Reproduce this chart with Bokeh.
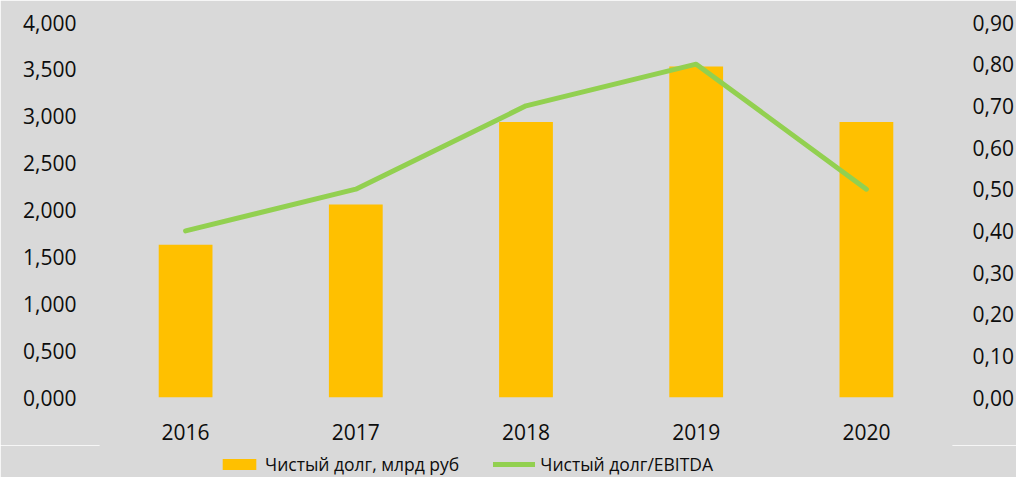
from bokeh.plotting import figure
from bokeh.layouts import column
from bokeh.models import (ColumnDataSource, Range1d, LinearAxis, FixedTicker,
                          CustomJSTickFormatter, Legend, LegendItem)
from bokeh.embed import file_html
from bokeh.resources import INLINE

years = ["2016", "2017", "2018", "2019", "2020"]
net_debt = [1.63, 2.06, 2.94, 3.53, 2.94]          # Чистый долг, млрд руб
debt_ebitda = [0.40, 0.50, 0.70, 0.80, 0.50]       # Чистый долг/EBITDA
left_ticks = [0, 0.5, 1.0, 1.5, 2.0, 2.5, 3.0, 3.5, 4.0]
right_ticks = [0, 0.1, 0.2, 0.3, 0.4, 0.5, 0.6, 0.7, 0.8, 0.9]
series_names = ["Чистый долг, млрд руб", "Чистый долг/EBITDA"]

BG = "#D9D9D9"
FONT = "Open Sans"
TXT = "#0D0D0D"
BAR_C = "#FFC000"
LINE_C = "#92D050"

src = ColumnDataSource(dict(year=years, debt=net_debt, ratio=debt_ebitda))

p = figure(width=1016, height=445, x_range=years, y_range=Range1d(0, 4),
           output_backend="svg", toolbar_location=None,
           background_fill_color=BG, border_fill_color=BG,
           min_border_left=100, min_border_right=58, min_border_top=22,
           min_border_bottom=48)
p.outline_line_color = BG
p.outline_line_width = 2
p.xgrid.visible = False
p.ygrid.visible = False
p.extra_y_ranges = {"ratio": Range1d(0, 0.9)}

p.vbar(x="year", top="debt", width=0.316, source=src,
       fill_color=BAR_C, line_color=None)
p.line(x="year", y="ratio", source=src, y_range_name="ratio",
       line_color=LINE_C, line_width=5, line_join="round", line_cap="round")

def style_axis(ax):
    ax.axis_line_color = None
    ax.major_tick_line_color = None
    ax.minor_tick_line_color = None
    ax.major_label_text_font = FONT
    ax.major_label_text_font_size = "21px"
    ax.major_label_text_color = TXT

yl = p.yaxis[0]
yl.ticker = FixedTicker(ticks=left_ticks)
yl.formatter = CustomJSTickFormatter(code="return tick.toFixed(3).replace('.', ',');")
yl.major_label_standoff = 18
style_axis(yl)

yr = LinearAxis(y_range_name="ratio",
                ticker=FixedTicker(ticks=right_ticks),
                formatter=CustomJSTickFormatter(code="return tick.toFixed(2).replace('.', ',');"))
yr.major_label_standoff = 15
style_axis(yr)
p.add_layout(yr, "right")

xa = p.xaxis[0]
xa.major_label_standoff = 20
style_axis(xa)

# legend strip below the chart (same data, plotted outside its visible y-range)
lg = figure(width=1016, height=32, output_backend="svg", toolbar_location=None,
            background_fill_color=BG, border_fill_color=BG,
            min_border=0, x_range=years, y_range=Range1d(10, 11))
lg.outline_line_color = BG
lg.outline_line_width = 2
lg.axis.visible = False
lg.grid.visible = False
sw_bar = lg.vbar(x="year", top="debt", width=0.316, source=src,
                 fill_color=BAR_C, line_color=None)
sw_line = lg.line(x="year", y="ratio", source=src,
                  line_color=LINE_C, line_width=5, line_cap="round")

legend = Legend(items=[LegendItem(label=series_names[0], renderers=[sw_bar]),
                       LegendItem(label=series_names[1], renderers=[sw_line])],
                orientation="horizontal", location=(118, 1),
                background_fill_alpha=0, border_line_color=None,
                label_text_font=FONT, label_text_font_size="17.5px",
                label_text_color=TXT, glyph_width=42, glyph_height=14,
                label_standoff=5, spacing=34, padding=0, margin=0)
lg.add_layout(legend, "center")

layout = column(p, lg, spacing=0)
open("out.html", "w").write(file_html(layout, INLINE))
